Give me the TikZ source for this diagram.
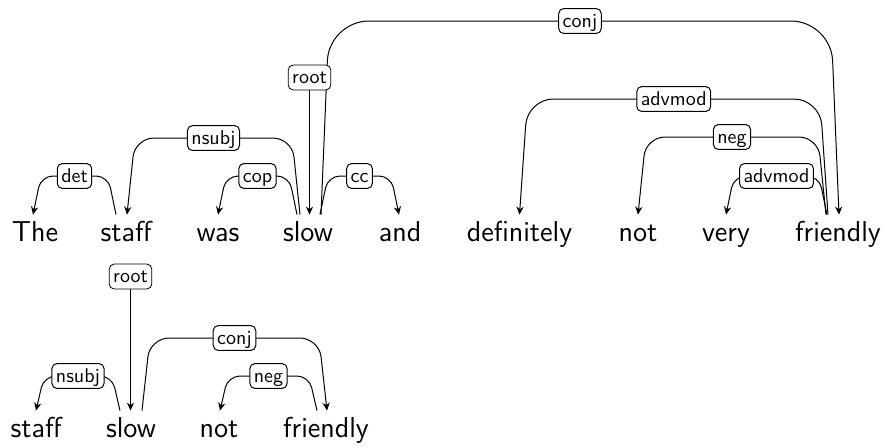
\documentclass[tikz,border=0pt]{standalone}
\usetikzlibrary{arrows.meta,calc}
\newcommand\dedge[9]{%
  \draw[dep, rounded corners=#1] let \p1=([xshift=#3]#2.north), \p2=([xshift=#6]#5.north), \p3=(0,#8) in
    (\p1) -- (\x1+#4,\y3) -- node[lab]{#9} (\x2+#7,\y3) -- (\p2);}
\begin{document}
\begin{tikzpicture}[x=0.5pt,y=-0.5pt,
  word/.style={font=\sffamily\Large, anchor=base, inner sep=0pt, text height=13pt},
  lab/.style={draw, fill=white, rounded corners=2.5pt, font=\sffamily, inner xsep=2pt, inner ysep=0.6pt, text height=8.75pt, text depth=2.5pt, anchor=center},
  dep/.style={line width=0.5pt, -{Stealth[length=4pt,width=3.6pt]}}]
\useasboundingbox (0,0) rectangle (885,447);
% top sentence
\node[word] (the) at (35,241) {The};
\node[word] (staff) at (126,241) {staff};
\node[word] (was) at (218,241) {was};
\node[word] (slow) at (308,241) {slow};
\node[word] (and) at (400,241) {and};
\node[word] (def) at (519.5,241) {definitely};
\node[word] (not) at (638,241) {not};
\node[word] (very) at (726,241) {very};
\node[word] (fr) at (838,241) {friendly};
\dedge{6pt}{staff}{-5pt}{-4pt}{the}{-1pt}{4pt}{176}{det}
\dedge{9.5pt}{slow}{-4pt}{-4pt}{staff}{0.5pt}{4pt}{138}{nsubj}
\dedge{6pt}{slow}{-5.5pt}{-4pt}{was}{0pt}{4pt}{176}{cop}
\dedge{6pt}{slow}{6pt}{4pt}{and}{-0.5pt}{-4pt}{176}{cc}
\dedge{20pt}{slow}{6.5pt}{4pt}{fr}{0.5pt}{-4pt}{21}{conj}
\dedge{13pt}{fr}{-5pt}{-4pt}{def}{0pt}{4pt}{99}{advmod}
\dedge{9.5pt}{fr}{-6pt}{-4pt}{not}{0pt}{4pt}{137}{neg}
\dedge{6pt}{fr}{-5.5pt}{-4pt}{very}{0pt}{4pt}{176}{advmod}
\node[lab] (root1) at (309.5,77.5) {root};
\draw[dep] (root1.south) -- (root1.south |- slow.north);
% bottom sentence
\node[word] (staff2) at (36,437) {staff};
\node[word] (slow2) at (131,437) {slow};
\node[word] (not2) at (219,437) {not};
\node[word] (fr2) at (326,437) {friendly};
\dedge{6pt}{slow2}{-5.5pt}{-4pt}{staff2}{0pt}{4pt}{376}{nsubj}
\dedge{9.5pt}{slow2}{5.5pt}{4pt}{fr2}{0.5pt}{-4pt}{338}{conj}
\dedge{6pt}{fr2}{-4.5pt}{-4pt}{not2}{0.5pt}{4pt}{376}{neg}
\node[lab] (root2) at (130.5,276.5) {root};
\draw[dep] (root2.south) -- (root2.south |- slow2.north);
\end{tikzpicture}
\end{document}
